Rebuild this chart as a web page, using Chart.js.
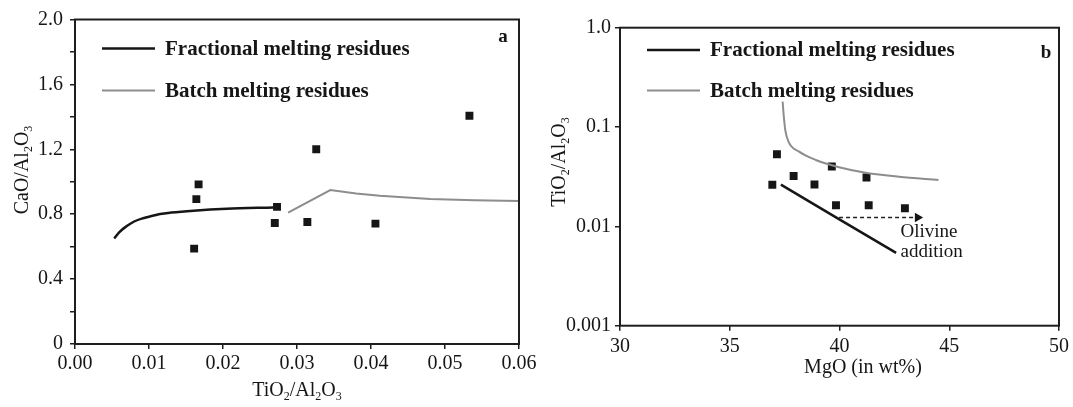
<!DOCTYPE html>
<html>
<head>
<meta charset="utf-8">
<script src="https://cdn.jsdelivr.net/npm/chart.js@4.4.0/dist/chart.umd.min.js"></script>
<style>
  html, body { margin: 0; padding: 0; background: #fff; }
  #wrap { position: relative; width: 1073px; height: 407px; }
  canvas { position: absolute; top: 0; }
  #chartA { left: 0; }
  #chartB { left: 540px; }
</style>
</head>
<body>
<div id="wrap">
  <canvas id="chartA" width="540" height="407"></canvas>
  <canvas id="chartB" width="533" height="407"></canvas>
</div>
<script>
// ---- panel a: CaO/Al2O3 against TiO2/Al2O3 ----
const fracA_x = [0.0053, 0.0060, 0.0070, 0.0080, 0.0092, 0.0105, 0.0115, 0.0130, 0.0160, 0.0205, 0.0268];
const fracA_y = [0.650, 0.690, 0.727, 0.755, 0.775, 0.790, 0.801, 0.810, 0.822, 0.834, 0.842];
const batchA_x = [0.0288, 0.0345, 0.0380, 0.0412, 0.0480, 0.0540, 0.0600];
const batchA_y = [0.809, 0.949, 0.928, 0.913, 0.894, 0.886, 0.882];
const samplesA_x = [0.0161, 0.0164, 0.0167, 0.0270, 0.0273, 0.0314, 0.0326, 0.0406, 0.0533];
const samplesA_y = [0.588, 0.893, 0.984, 0.746, 0.845, 0.752, 1.200, 0.742, 1.407];
const ticksA_x = [0, 0.01, 0.02, 0.03, 0.04, 0.05, 0.06];

// ---- panel b: TiO2/Al2O3 (log) against MgO ----
const fracB_x = [37.33, 42.58];
const fracB_y = [0.0263, 0.0054];
const batchB_x = [37.41, 37.46, 37.53, 37.68, 38.16, 38.92, 39.98, 41.19, 42.70, 44.51];
const batchB_y = [0.180, 0.130, 0.093, 0.071, 0.0565, 0.0466, 0.0394, 0.0347, 0.0316, 0.0293];
const samplesB_x = [36.94, 37.15, 37.91, 38.86, 39.65, 39.84, 41.23, 41.33, 42.98];
const samplesB_y = [0.0262, 0.0532, 0.0321, 0.0264, 0.0401, 0.0163, 0.0310, 0.0163, 0.0152];
const olivine_x = [39.98, 43.56];
const olivine_y = [0.0123, 0.0123];
const ticksB_y = [0.001, 0.01, 0.1, 1];

const legendNames = ['Fractional melting residues', 'Batch melting residues'];

const SERIF = "'Liberation Serif', 'Times New Roman', serif";
const INK = '#161616';
const GREY = '#8d8d8d';

function pts(xs, ys) {
  return xs.map((x, i) => ({ x: x, y: ys[i] }));
}

// text with subscript runs, parts = [[text, isSub], ...]
function richText(ctx, parts, x, y, size) {
  const main = size + 'px ' + SERIF;
  const sub = Math.round(size * 0.62) + 'px ' + SERIF;
  let w = 0;
  parts.forEach(p => { ctx.font = p[1] ? sub : main; w += ctx.measureText(p[0]).width; });
  let cx = x - w / 2;
  ctx.textAlign = 'left';
  ctx.textBaseline = 'alphabetic';
  parts.forEach(p => {
    ctx.font = p[1] ? sub : main;
    ctx.fillText(p[0], cx, p[1] ? y + size * 0.22 : y);
    cx += ctx.measureText(p[0]).width;
  });
}

const TI_AL = [['TiO', false], ['2', true], ['/Al', false], ['2', true], ['O', false], ['3', true]];
const CA_AL = [['CaO/Al', false], ['2', true], ['O', false], ['3', true]];

// frame, legend, axis titles and panel letter
function decor(cfg) {
  return {
    id: 'decor',
    afterDraw(chart) {
      const ctx = chart.ctx;
      const a = chart.chartArea;
      ctx.save();
      ctx.strokeStyle = '#1e1e1e';
      ctx.lineWidth = 2;
      ctx.strokeRect(a.left, a.top, a.right - a.left, a.bottom - a.top);

      // legend
      const lx = a.left + 27;
      [[INK, 2.5, cfg.legY[0]], [GREY, 2, cfg.legY[1]]].forEach((l, i) => {
        ctx.strokeStyle = l[0];
        ctx.lineWidth = l[1];
        ctx.beginPath();
        ctx.moveTo(lx, l[2]);
        ctx.lineTo(lx + 53, l[2]);
        ctx.stroke();
        ctx.fillStyle = INK;
        ctx.font = 'bold 21px ' + SERIF;
        ctx.textAlign = 'left';
        ctx.textBaseline = 'middle';
        ctx.fillText(legendNames[i], lx + 63, l[2] + 1);
      });

      // panel letter
      ctx.font = 'bold 19px ' + SERIF;
      ctx.textAlign = 'center';
      ctx.fillText(cfg.letter, cfg.letterPos[0], cfg.letterPos[1]);

      // x title
      ctx.fillStyle = INK;
      richText(ctx, cfg.xTitle, cfg.xTitlePos[0], cfg.xTitlePos[1], 20);

      // y title, rotated
      ctx.save();
      ctx.translate(cfg.yTitlePos[0], cfg.yTitlePos[1]);
      ctx.rotate(-Math.PI / 2);
      richText(ctx, cfg.yTitle, 0, 0, 20);
      ctx.restore();

      if (cfg.extra) cfg.extra(chart, ctx);
      ctx.restore();
    }
  };
}

const tickFont = { family: SERIF, size: 20 };
const gridOpts = { display: true, drawOnChartArea: false, drawTicks: true, tickLength: 5, color: '#1e1e1e', lineWidth: 1.5 };

function lineSet(data, color, width) {
  return { data: data, showLine: true, borderColor: color, borderWidth: width, pointRadius: 0,
           cubicInterpolationMode: 'monotone', fill: false };
}
function squareSet(data) {
  return { data: data, showLine: false, pointStyle: 'rect', pointRadius: 5.6,
           backgroundColor: INK, borderColor: INK, borderWidth: 0 };
}

new Chart(document.getElementById('chartA'), {
  type: 'scatter',
  data: {
    datasets: [
      lineSet(pts(fracA_x, fracA_y), INK, 2.5),
      Object.assign(lineSet(pts(batchA_x, batchA_y), GREY, 2), { cubicInterpolationMode: 'default', tension: 0 }),
      squareSet(pts(samplesA_x, samplesA_y))
    ]
  },
  options: {
    responsive: false,
    animation: false,
    events: [],
    layout: { padding: { left: 0, top: 19.5, right: 21, bottom: 0 } },
    plugins: { legend: { display: false }, tooltip: { enabled: false } },
    scales: {
      x: {
        type: 'linear', min: 0, max: 0.06,
        afterFit: s => { s.height = 63; },
        afterBuildTicks: s => { s.ticks = ticksA_x.map(v => ({ value: v })); },
        border: { display: false },
        grid: gridOpts,
        ticks: { font: tickFont, color: INK, padding: 3, autoSkip: false, maxRotation: 0,
                 callback: v => Number(v).toFixed(2) }
      },
      y: {
        type: 'linear', min: 0, max: 2,
        afterFit: s => { s.width = 75; },
        border: { display: false },
        grid: gridOpts,
        ticks: { stepSize: 0.2, font: tickFont, color: INK, padding: 7, autoSkip: false,
                 callback: v => {
                   const k = Math.round(v * 10);
                   if (k % 4 !== 0) return '';
                   return k === 0 ? '0' : (k / 10).toFixed(1);
                 } }
      }
    }
  },
  plugins: [decor({
    legY: [48.5, 90.5],
    letter: 'a', letterPos: [503, 37],
    xTitle: TI_AL, xTitlePos: [297, 396],
    yTitle: CA_AL, yTitlePos: [28, 170]
  })]
});

new Chart(document.getElementById('chartB'), {
  type: 'scatter',
  data: {
    datasets: [
      lineSet(pts(fracB_x, fracB_y), INK, 2.5),
      lineSet(pts(batchB_x, batchB_y), GREY, 2),
      squareSet(pts(samplesB_x, samplesB_y)),
      { data: pts(olivine_x, olivine_y), showLine: true, borderColor: '#222', borderWidth: 1.5,
        borderDash: [4, 3], pointStyle: 'triangle', pointRotation: 90, pointRadius: [0, 5.5],
        backgroundColor: INK, pointBorderWidth: 0 }
    ]
  },
  options: {
    responsive: false,
    animation: false,
    events: [],
    layout: { padding: { left: 0, top: 27.7, right: 12, bottom: 0 } },
    plugins: { legend: { display: false }, tooltip: { enabled: false } },
    scales: {
      x: {
        type: 'linear', min: 30, max: 50,
        afterFit: s => { s.height = 81.3; },
        border: { display: false },
        grid: gridOpts,
        ticks: { stepSize: 5, font: tickFont, color: INK, padding: 4, autoSkip: false, maxRotation: 0 }
      },
      y: {
        type: 'logarithmic', min: 0.001, max: 1,
        afterFit: s => { s.width = 80; },
        afterBuildTicks: s => { s.ticks = ticksB_y.map(v => ({ value: v })); },
        border: { display: false },
        grid: gridOpts,
        ticks: { font: tickFont, color: INK, padding: 4, autoSkip: false,
                 callback: v => (v >= 1 ? '1.0' : String(v)) }
      }
    }
  },
  plugins: [decor({
    legY: [50, 90.5],
    letter: 'b', letterPos: [506, 53],
    xTitle: [['MgO (in wt%)', false]], xTitlePos: [323, 373],
    yTitle: TI_AL, yTitlePos: [25, 162],
    extra: (chart, ctx) => {
      const xs = chart.scales.x, ys = chart.scales.y;
      ctx.fillStyle = INK;
      ctx.font = '19px ' + SERIF;
      ctx.textAlign = 'left';
      ctx.textBaseline = 'middle';
      ctx.fillText('Olivine', xs.getPixelForValue(42.78), ys.getPixelForValue(0.00883));
      ctx.fillText('addition', xs.getPixelForValue(42.78), ys.getPixelForValue(0.00556));
    }
  })]
});
</script>
</body>
</html>
